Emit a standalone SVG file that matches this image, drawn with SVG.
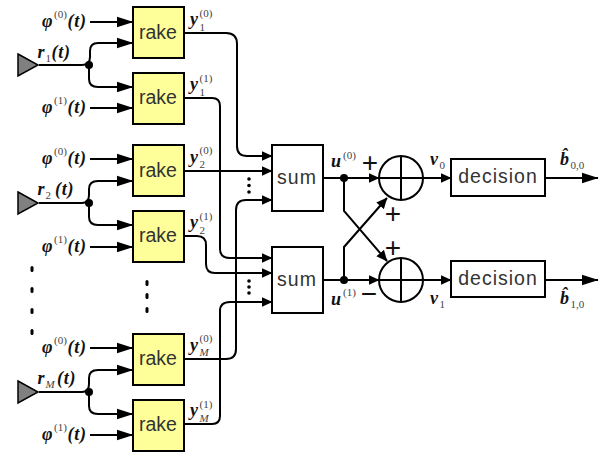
<svg xmlns="http://www.w3.org/2000/svg" width="607" height="453" viewBox="0 0 607 453">
<style>
.w{fill:none;stroke:#000;stroke-width:2}
.big{marker-end:url(#ab)}
.sm{marker-end:url(#as)}
.rk{fill:#ffff99;stroke:#000;stroke-width:2}
.bx{fill:#fff;stroke:#000;stroke-width:2}
.lb{font-family:"Liberation Sans",Arial,sans-serif;font-size:19.5px;fill:#333;text-anchor:middle}
.sp{letter-spacing:1px}
.m{font-family:"Liberation Serif","Times New Roman",serif;font-weight:bold;font-style:italic;font-size:18px;fill:#111;letter-spacing:.8px}
.s{font-family:"Liberation Serif","Times New Roman",serif;font-size:11px;fill:#444}
.si{font-style:italic}
.op{font-family:"Liberation Sans",Arial,sans-serif;font-size:28px;fill:#111;text-anchor:middle}
.d{fill:#000}
.ant{fill:#808080;stroke:#000;stroke-width:1.5}
</style>
<defs>
<marker id="ab" markerUnits="userSpaceOnUse" markerWidth="18" markerHeight="12" refX="16.5" refY="6" orient="auto"><path d="M0 .5L17 6L0 11.5z"/></marker>
<marker id="as" markerUnits="userSpaceOnUse" markerWidth="12" markerHeight="11" refX="10.5" refY="5" orient="auto"><path d="M0 0L11 5L0 10z"/></marker>
</defs>
<g id="connectors">
<path class="w big" d="M90 22H133"/><path class="w big" d="M39 65H82Q90 65 90 57V51Q90 43 98 43H133"/><path class="w big" d="M89 65V79Q89 87 98 87H133"/><path class="w big" d="M90 108H133"/>
<path class="w big" d="M90 159H133"/><path class="w big" d="M39 203H82Q89 203 89 195V189Q89 181 98 181H133"/><path class="w big" d="M89 203V217Q89 225 98 225H133"/><path class="w big" d="M90 247H133"/>
<path class="w big" d="M90 348H133"/><path class="w big" d="M39 392H82Q89 392 89 384V378Q89 370 98 370H133"/><path class="w big" d="M89 392V406Q89 414 98 414H133"/><path class="w big" d="M90 435H133"/>
<path class="w sm" d="M184 33H226Q237 33 237 44V146Q237 156 247 156H272"/>
<path class="w sm" d="M184 98H212Q220 98 220 106V249Q220 258 230 258H272"/>
<path class="w sm" d="M184 171H272"/>
<path class="w sm" d="M184 236H197Q206 236 206 245V264Q206 273 215 273H272"/>
<path class="w sm" d="M184 359H226Q236 359 236 349V210Q236 200 246 200H272"/>
<path class="w sm" d="M184 424H212Q220 424 220 416V311Q220 302 230 302H272"/>
<path class="w sm" d="M323 178H379"/><path class="w sm" d="M323 280H379"/>
<path class="w sm" d="M344 178V211L387 261"/><path class="w sm" d="M344 280V247L387 198"/>
<path class="w sm" d="M379 178H451"/><path class="w sm" d="M379 280H451"/>
<path class="w big" d="M545 178H598"/><path class="w big" d="M545 280H598"/>
<circle class="d" cx="89" cy="65" r="4"/><circle class="d" cx="89" cy="203" r="4"/><circle class="d" cx="89" cy="392" r="4"/>
<circle class="d" cx="344" cy="178" r="4"/><circle class="d" cx="344" cy="280" r="4"/>
</g>
<g id="ant1"><path class="ant" d="M18 54L38 65L18 76z"/></g>
<g id="ant2"><path class="ant" d="M18 192L38 203L18 214z"/></g>
<g id="antM"><path class="ant" d="M18 381L38 392L18 403z"/></g>
<g id="rake1"><rect class="rk" x="133" y="7" width="51" height="51"/><text class="lb" x="158" y="39">rake</text></g>
<g id="rake2"><rect class="rk" x="133" y="73" width="51" height="51"/><text class="lb" x="158" y="104">rake</text></g>
<g id="rake3"><rect class="rk" x="133" y="145" width="51" height="51"/><text class="lb" x="158" y="177">rake</text></g>
<g id="rake4"><rect class="rk" x="133" y="211" width="51" height="51"/><text class="lb" x="158" y="242">rake</text></g>
<g id="rake5"><rect class="rk" x="133" y="334" width="51" height="51"/><text class="lb" x="158" y="365">rake</text></g>
<g id="rake6"><rect class="rk" x="133" y="400" width="51" height="51"/><text class="lb" x="158" y="431">rake</text></g>
<g id="sum1"><rect class="bx" x="272" y="145" width="51" height="66"/><text class="lb sp" x="297" y="184">sum</text></g>
<g id="sum2"><rect class="bx" x="272" y="247" width="51" height="66"/><text class="lb sp" x="297" y="286">sum</text></g>
<g id="add1"><circle cx="401" cy="178" r="22" fill="none" stroke="#000" stroke-width="2"/><path class="w" d="M401 156V200"/></g>
<g id="add2"><circle cx="401" cy="280" r="22" fill="none" stroke="#000" stroke-width="2"/><path class="w" d="M401 258V302"/></g>
<g id="dec1"><rect class="bx" x="451" y="159" width="94" height="37"/><text class="lb sp" x="498" y="183">decision</text></g>
<g id="dec2"><rect class="bx" x="451" y="261" width="94" height="36"/><text class="lb sp" x="498" y="285">decision</text></g>
<g id="ellipsis">
<rect class="d" x="30.500" y="266" width="3" height="6" rx="1.500"/><rect class="d" x="30.500" y="287" width="3" height="6" rx="1.500"/><rect class="d" x="30.500" y="308" width="3" height="6" rx="1.500"/><rect class="d" x="30.500" y="329" width="3" height="6" rx="1.500"/>
<rect class="d" x="145.500" y="280" width="3" height="6" rx="1.500"/><rect class="d" x="145.500" y="293" width="3" height="6" rx="1.500"/><rect class="d" x="145.500" y="307" width="3" height="6" rx="1.500"/>
<circle class="d" cx="249" cy="179" r="1.800"/><circle class="d" cx="249" cy="185.500" r="1.800"/><circle class="d" cx="249" cy="192" r="1.800"/>
<circle class="d" cx="249" cy="281" r="1.800"/><circle class="d" cx="249" cy="287" r="1.800"/><circle class="d" cx="249" cy="293" r="1.800"/>
</g>
<g id="labels">
<text class="m" x="42" y="27">φ</text><text class="s" x="54" y="18">(0)</text><text class="m" x="67.500" y="27">(t)</text>
<text class="m" x="42" y="113">φ</text><text class="s" x="54" y="104">(1)</text><text class="m" x="67.500" y="113">(t)</text>
<text class="m" x="42" y="164">φ</text><text class="s" x="54" y="155">(0)</text><text class="m" x="67.500" y="164">(t)</text>
<text class="m" x="42" y="252">φ</text><text class="s" x="54" y="243">(1)</text><text class="m" x="67.500" y="252">(t)</text>
<text class="m" x="42" y="353">φ</text><text class="s" x="54" y="344">(0)</text><text class="m" x="67.500" y="353">(t)</text>
<text class="m" x="42" y="440">φ</text><text class="s" x="54" y="431">(1)</text><text class="m" x="67.500" y="440">(t)</text>
<text class="m" x="37.500" y="58">r</text><text class="s" x="45.500" y="62">1</text><text class="m" x="51.500" y="58">(t)</text>
<text class="m" x="37.500" y="195">r</text><text class="s" x="45.500" y="199">2</text><text class="m" x="55" y="195">(t)</text>
<text class="m" x="37.500" y="384">r</text><text class="s si" x="45.500" y="388">M</text><text class="m" x="57" y="384">(t)</text>
<text class="m" x="190" y="25">y</text><text class="s" x="199.500" y="17">(0)</text><text class="s" x="199.500" y="31">1</text>
<text class="m" x="190" y="90">y</text><text class="s" x="199.500" y="82">(1)</text><text class="s" x="199.500" y="96">1</text>
<text class="m" x="190" y="163">y</text><text class="s" x="199.500" y="154">(0)</text><text class="s" x="199.500" y="168">2</text>
<text class="m" x="190" y="228">y</text><text class="s" x="199.500" y="220">(1)</text><text class="s" x="199.500" y="234">2</text>
<text class="m" x="190" y="351">y</text><text class="s" x="199.500" y="342">(0)</text><text class="s si" x="199.500" y="356">M</text>
<text class="m" x="190" y="416">y</text><text class="s" x="199.500" y="408">(1)</text><text class="s si" x="199.500" y="422">M</text>
<text class="m" x="331" y="167">u</text><text class="s" x="343" y="159">(0)</text>
<text class="m" x="331" y="305">u</text><text class="s" x="343" y="296">(1)</text>
<text class="m" x="430" y="165">v</text><text class="s" x="439.500" y="169">0</text>
<text class="m" x="430" y="304">v</text><text class="s" x="439.500" y="308">1</text>
<text class="m" x="560" y="165">b̂</text><text class="s" x="570.500" y="169">0,0</text>
<text class="m" x="560" y="304">b̂</text><text class="s" x="570.500" y="308">1,0</text>
<text class="op" x="370" y="172">+</text><text class="op" x="393" y="223">+</text><text class="op" x="393" y="257">+</text><text class="op" x="369" y="303">−</text>
</g>
</svg>
